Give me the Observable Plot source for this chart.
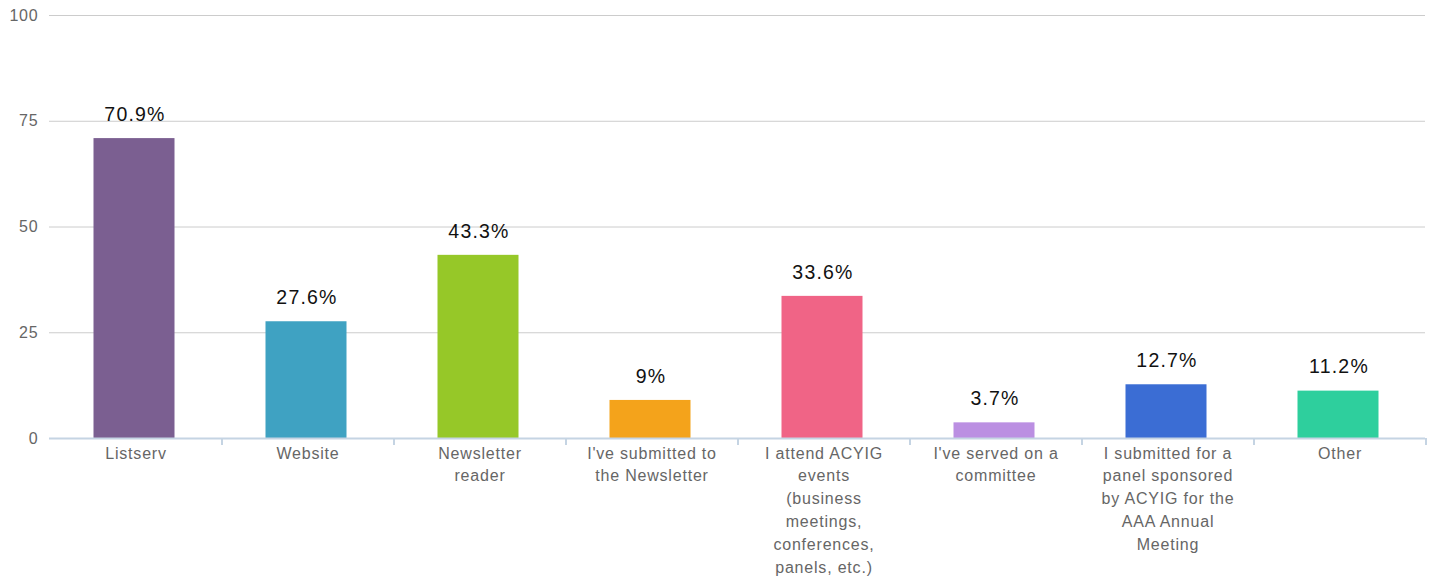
<!DOCTYPE html>
<html>
<head>
<meta charset="utf-8">
<script src="https://cdn.jsdelivr.net/npm/d3@7"></script>
<script src="https://cdn.jsdelivr.net/npm/@observablehq/plot@0.6"></script>
<style>
  html, body { margin: 0; padding: 0; background: #fff; }
  #chart svg { display: block; }
</style>
</head>
<body>
<div id="chart"></div>
<script>
const categories = ["Listserv", "Website", "Newsletter reader", "I've submitted to the Newsletter", "I attend ACYIG events", "I've served on a committee", "I submitted for a panel", "Other"];
const labels = [
  "Listserv",
  "Website",
  "Newsletter\nreader",
  "I've submitted to\nthe Newsletter",
  "I attend ACYIG\nevents\n(business\nmeetings,\nconferences,\npanels, etc.)",
  "I've served on a\ncommittee",
  "I submitted for a\npanel sponsored\nby ACYIG for the\nAAA Annual\nMeeting",
  "Other"
];
const values = [70.9, 27.6, 43.3, 9, 33.6, 3.7, 12.7, 11.2];
const valueLabels = ["70.9%", "27.6%", "43.3%", "9%", "33.6%", "3.7%", "12.7%", "11.2%"];
const colors = ["#7b5f91", "#3fa2c2", "#96c828", "#f4a31b", "#f06486", "#bb8fe2", "#3b6dd4", "#2ecf9d"];
const yTicks = [0, 25, 50, 75, 100];

const data = categories.map((c, i) => ({cat: c, value: values[i], label: valueLabels[i], color: colors[i]}));
const labelMap = new Map(categories.map((c, i) => [c, labels[i]]));

const W = 1434, H = 580, mL = 49, mR = 9;
const bw = (W - mL - mR) / categories.length;

const chart = Plot.plot({
  width: W,
  height: H,
  marginLeft: mL,
  marginRight: mR,
  marginTop: 15,
  marginBottom: 142,
  style: {fontFamily: "'Liberation Sans', Arial, sans-serif", background: "#fff"},
  x: {domain: categories, paddingInner: 0.53, paddingOuter: 0.265, align: 0.5, label: null},
  y: {domain: [0, 100], label: null},
  marks: [
    Plot.gridY(yTicks.filter(d => d > 0), {stroke: "#cccccc", strokeOpacity: 1, strokeWidth: 1}),
    Plot.axisY(yTicks, {tickSize: 0, tickPadding: 11, fontSize: 16, fill: "#666", label: null, className: "yax"}),
    Plot.barY(data, {x: "cat", y: "value", fill: "color", dx: -1.5}),
    Plot.ruleY([0], {stroke: "#c5d4e3", strokeWidth: 2}),
    Plot.ruleX(categories, {x: d => d, dx: bw / 2, y1: 0, y2: 0, insetBottom: -7, stroke: "#c5d4e3", strokeWidth: 2}),
    Plot.text(data, {x: "cat", y: "value", text: "label", dy: -24, dx: -1, fontSize: 19, fill: "#111", className: "vlab"}),
    Plot.axisX({tickSize: 0, tickPadding: 4, fontSize: 16, fill: "#666", lineHeight: 22.8/16, tickFormat: d => labelMap.get(d), label: null, textOverflow: null, className: "xax"})
  ]
});
d3.select(chart).selectAll(".yax text").attr("font-size", 16).style("letter-spacing", "0.8px");
d3.select(chart).selectAll(".xax text").attr("font-size", 16).style("letter-spacing", "0.8px");
d3.select(chart).selectAll(".vlab text").attr("font-size", 19.5).style("letter-spacing", "1.2px");
document.getElementById("chart").appendChild(chart);
</script>
</body>
</html>
